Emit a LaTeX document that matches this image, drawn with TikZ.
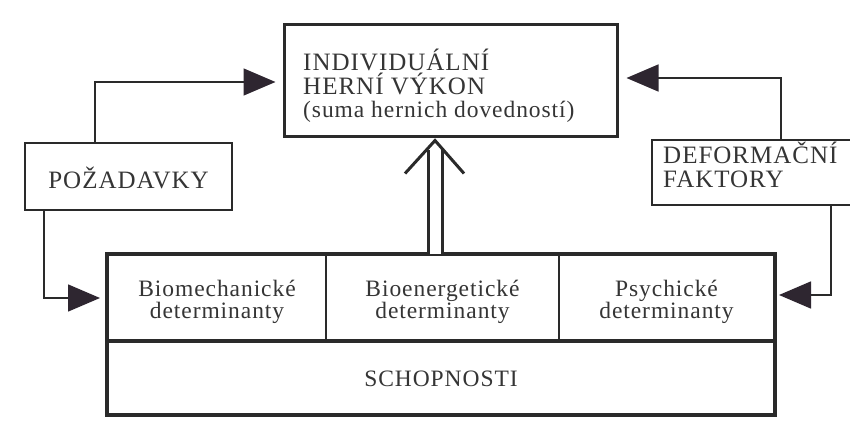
\documentclass[tikz,border=0pt]{standalone}
\usepackage{fontspec}
\setmainfont{Liberation Serif}[LetterSpace=4]
\usetikzlibrary{arrows.meta,calc}
\definecolor{ink}{HTML}{2A2A2A}
\definecolor{txt}{HTML}{353535}
\definecolor{head}{HTML}{2E2630}
\begin{document}
\begin{tikzpicture}[x=1pt,y=-1pt,
  box/.style={draw=ink, line width=2pt, rectangle, inner sep=0pt},
  lbl/.style={text=txt, inner sep=0pt},
  conn/.style={draw=ink, line width=1.5pt},
  bighead/.style={-{Triangle[length=32pt,width=27pt,color=head]}},
  capsfont/.style={font=\fontsize{25}{23.5}\selectfont},
  lowfont/.style={font=\fontsize{23.5}{22}\selectfont}]
\fill[white] (0,0) rectangle (850,433);
\clip (0,0) rectangle (850,433);
% top box
\node[box, line width=3pt, minimum width=333pt, minimum height=111pt] (top) at (450.5,80.5) {};
\node[lbl, anchor=north west, align=left, capsfont] (toptext) at (303,49)
  {INDIVIDUÁLNÍ\\HERNÍ VÝKON\\{\fontsize{23.5}{23}\selectfont (suma hernich dovedností)}};
% side boxes
\node[box, minimum width=207pt, minimum height=67pt] (poz) at (128.5,176.5) {};
\node[lbl, capsfont] (poztext) at (128.5,178) {POŽADAVKY};
\node[box, minimum width=210pt, minimum height=65pt] (def) at (757,172.5) {};
\node[lbl, anchor=north west, align=left, capsfont] (deftext) at (663,142) {DEFORMAČNÍ\\FAKTORY};
% bottom cells
\node[box, minimum width=218pt, minimum height=85pt] (c1) at (217,297.5) {};
\node[box, minimum width=233pt, minimum height=85pt] (c2) at (442.5,297.5) {};
\node[box, minimum width=215pt, minimum height=85pt] (c3) at (666.5,297.5) {};
\node[box, minimum width=666pt, minimum height=74pt] (schop) at (441,377) {};
\node[lbl, align=center, lowfont] (t1) at (217,302) {Biomechanické\\determinanty};
\node[lbl, align=center, lowfont] (t2) at (442.5,302) {Bioenergetické\\determinanty};
\node[lbl, align=center, lowfont] (t3) at (666.5,302) {Psychické\\determinanty};
\node[lbl, lowfont] (t4) at (441,379) {SCHOPNOSTI};
\draw[ink, line width=3.5pt] (c1.north west) rectangle (schop.south east);
\draw[ink, line width=3pt] (c1.south west) -- (c3.south east);
% connectors
\draw[conn, bighead, shorten >=7pt] ($(poz.north west)+(71,0)$) |- ($(top.west)+(0,1.5)$);
\draw[conn, bighead, shorten >=7pt] ($(poz.south west)+(20,0)$) |- ($(c1.west)+(0,0.5)$);
\draw[conn, bighead, shorten >=8pt] ($(def.north west)+(130,0)$) |- ($(top.east)+(0,-2.5)$);
\draw[conn, bighead, shorten >=4pt] ($(def.south west)+(180,0)$) |- ($(c3.east)+(0,-2.5)$);
% double arrow
\draw[ink, line width=3pt, double=white, double distance=11pt] ($(c2.north)+(-7.5,0)$) -- ($(top.south)+(-15.5,12)$);
\draw[ink, line width=3pt, line join=miter] ($(top.south)+(-45.5,36)$) -- ($(top.south)+(-15.5,3)$) -- ($(top.south)+(13.5,36)$);
\end{tikzpicture}
\end{document}
